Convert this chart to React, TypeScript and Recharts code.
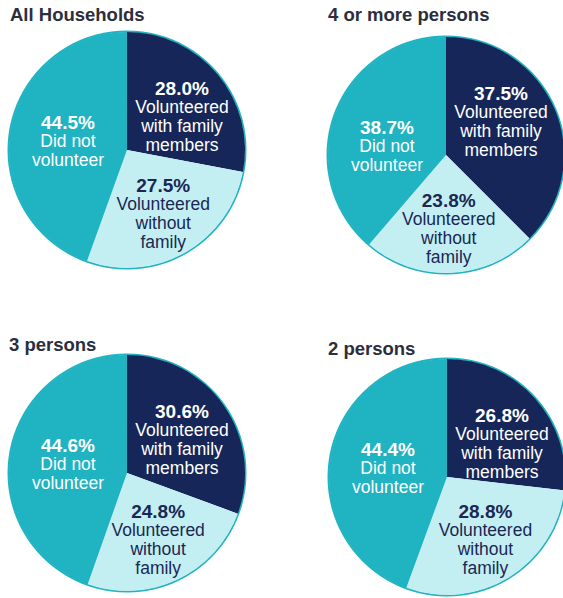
import { Cell, Pie, PieChart } from "recharts";

const groups = ["All Households", "4 or more persons", "3 persons", "2 persons"];
const withFamily = [28.0, 37.5, 30.6, 26.8];
const withoutFamily = [27.5, 23.8, 24.8, 28.8];
const didNotVolunteer = [44.5, 38.7, 44.6, 44.4];

const sliceLabels = [
  ["Volunteered", "with family", "members"],
  ["Volunteered", "without", "family"],
  ["Did not", "volunteer"]
];

const sliceColors = ["#162659", "#c4eff2", "#20b3c2"];
const textColors = ["#ffffff", "#1a2755", "#ffffff"];

const font = '"Liberation Sans", Arial, sans-serif';
const RADIUS = 118;

// where each small pie and its title go on the page
const boxes = [
  { left: 0, top: 30, cx: 127, cy: 120, titleLeft: 10, titleTop: 4 },
  { left: 283, top: 30, cx: 163, cy: 125, titleLeft: 328, titleTop: 4 },
  { left: 0, top: 350, cx: 127, cy: 123, titleLeft: 9, titleTop: 334 },
  { left: 283, top: 350, cx: 164, cy: 127, titleLeft: 328, titleTop: 338 }
];

const RADIAN = Math.PI / 180;

function labelCentre(index: number, cx: number, cy: number, midAngle: number) {
  // the dark and teal blocks sit at the same spot in every pie,
  // the light one follows its slice
  if (index === 0) return { x: cx + 55, y: cy - 34 };
  if (index === 2) return { x: cx - 59, y: cy - 9 };
  const d = RADIUS * 0.62;
  return {
    x: cx + d * Math.cos(-midAngle * RADIAN),
    y: cy + d * Math.sin(-midAngle * RADIAN)
  };
}

function renderLabel(props: any) {
  const { cx, cy, midAngle, index, value } = props;
  const { x, y } = labelCentre(index, cx, cy, midAngle);
  const lines = sliceLabels[index];
  const lineH = 19;
  const total = lines.length + 1;
  const startY = y - ((total - 1) * lineH) / 2;
  return (
    <text
      x={x}
      y={startY}
      textAnchor="middle"
      dominantBaseline="central"
      fill={textColors[index]}
      fontFamily={font}
    >
      <tspan x={x} y={startY} fontSize={19} fontWeight="bold">
        {value.toFixed(1)}%
      </tspan>
      {lines.map((line, i) => (
        <tspan key={line} x={x} y={startY + (i + 1) * lineH} fontSize={17.5}>
          {line}
        </tspan>
      ))}
    </text>
  );
}

function SmallPie({ idx }: { idx: number }) {
  const box = boxes[idx];
  const data = [
    { name: "Volunteered with family members", value: withFamily[idx] },
    { name: "Volunteered without family", value: withoutFamily[idx] },
    { name: "Did not volunteer", value: didNotVolunteer[idx] }
  ];
  return (
    <>
      <div
        style={{
          position: "absolute",
          left: box.titleLeft,
          top: box.titleTop,
          fontFamily: font,
          fontWeight: "bold",
          fontSize: 18.5,
          lineHeight: "22px",
          color: "#2b2e3d",
          whiteSpace: "nowrap"
        }}
      >
        {groups[idx]}
      </div>
      <div style={{ position: "absolute", left: box.left, top: box.top, width: 280, height: 270 }}>
        <PieChart width={280} height={270} margin={{ top: 0, right: 0, bottom: 0, left: 0 }}>
          <Pie
            data={[{ name: "outline", value: 1 }]}
            dataKey="value"
            cx={box.cx}
            cy={box.cy}
            innerRadius={RADIUS - 0.5}
            outerRadius={RADIUS + 1.5}
            fill="#20b3c2"
            stroke="none"
            isAnimationActive={false}
          />
          <Pie
            data={data}
            dataKey="value"
            cx={box.cx}
            cy={box.cy}
            outerRadius={RADIUS}
            startAngle={90}
            endAngle={-270}
            stroke="none"
            labelLine={false}
            label={renderLabel}
            isAnimationActive={false}
          >
            {data.map((d, i) => (
              <Cell key={d.name} fill={sliceColors[i]} />
            ))}
          </Pie>
        </PieChart>
      </div>
    </>
  );
}

export default function App() {
  return (
    <div
      style={{
        position: "absolute",
        left: 0,
        top: 0,
        width: 563,
        height: 598,
        background: "#ffffff",
        overflow: "hidden"
      }}
    >
      {groups.map((g, i) => (
        <SmallPie key={g} idx={i} />
      ))}
    </div>
  );
}
